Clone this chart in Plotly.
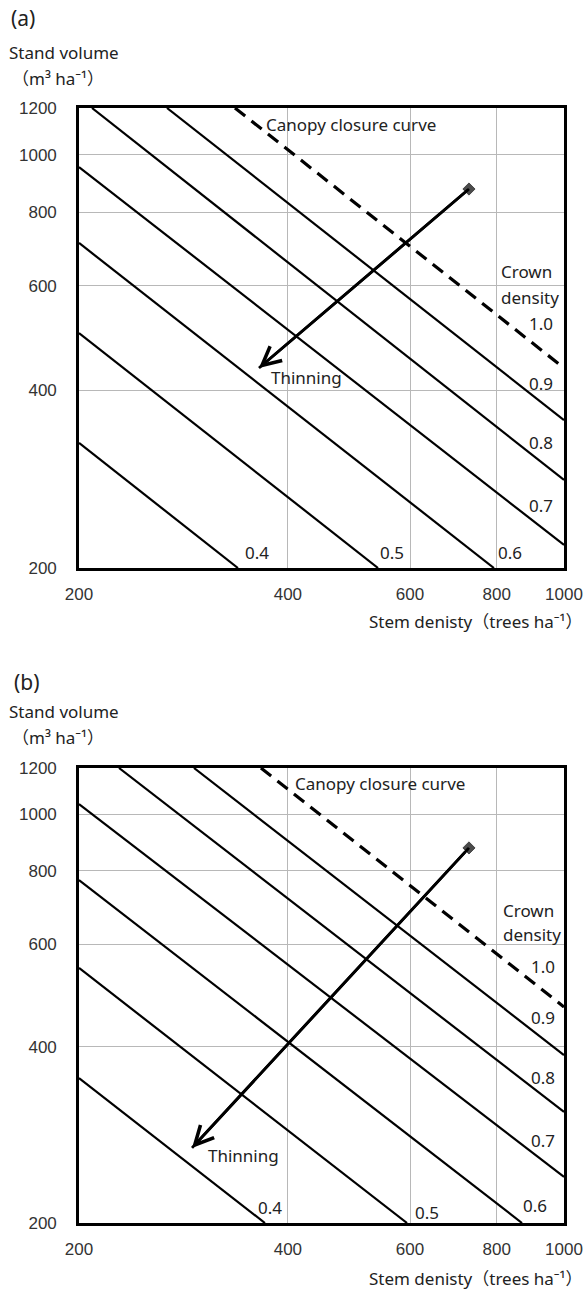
import numpy as np
import plotly.graph_objects as go

W, H = 584, 1290

# ---------------- data ----------------
x_ticks = [200, 400, 600, 800, 1000]
y_ticks = [200, 400, 600, 800, 1000, 1200]
density_labels = ["0.4", "0.5", "0.6", "0.7", "0.8", "0.9", "1.0"]

# Panel (a): crown-density lines, start/end (stem density N, stand volume V)
a_n0 = [200, 200, 200, 200, 208.8, 267.8, 335.6]
a_v0 = [325.5, 499.5, 709.4, 953.6, 1200, 1200, 1200]
a_n1 = [338.9, 539.5, 792.5, 1000, 1000, 1000, 1000]
a_v1 = [200, 200, 200, 218.8, 281.8, 355.9, 435.9]
a_arrow_n = [729.5, 363.4]
a_arrow_v = [875.2, 435.9]

# Panel (b)
b_n0 = [200, 200, 200, 200, 228.4, 292.9, 365.8]
b_v0 = [354, 546, 772, 1041, 1200, 1200, 1200]
b_n1 = [370.7, 594, 869.9, 1000, 1000, 1000, 1000]
b_v1 = [200, 200, 200, 239.8, 309.7, 387.5, 468.2]
b_arrow_n = [729.5, 291.0]
b_arrow_v = [876.0, 268.8]

TEXT_FONT = "Noto Sans, Noto Sans CJK JP, sans-serif"
NUM_FONT = "Liberation Sans, Arial, sans-serif"
TXT_COL = "#222222"

fig = go.Figure()


def px_x(x):
    return x / W


def px_y(y):
    return 1 - y / H


def axis_common():
    return dict(
        type="log", automargin=False,
        showgrid=True, gridcolor="#b8b8b8", gridwidth=1,
        showline=True, mirror=True, linecolor="black", linewidth=2.6,
        zeroline=False, ticks="",
        tickfont=dict(family=NUM_FONT, size=17, color="#333333"),
    )


panels = [
    dict(xa="x", ya="y", top=108, bottom=568,
         n0=a_n0, v0=a_v0, n1=a_n1, v1=a_v1, an=a_arrow_n, av=a_arrow_v),
    dict(xa="x2", ya="y2", top=768, bottom=1223,
         n0=b_n0, v0=b_v0, n1=b_n1, v1=b_v1, an=b_arrow_n, av=b_arrow_v),
]

layout_axes = {}
for i, p in enumerate(panels):
    sfx = "" if i == 0 else "2"
    xa = axis_common()
    xa.update(domain=[px_x(79), px_x(564)],
              range=[np.log10(200), np.log10(1000)],
              tickvals=x_ticks, ticktext=[str(v) for v in x_ticks],
              anchor="y" + sfx, ticklabelstandoff=9)
    ya = axis_common()
    ya.update(domain=[px_y(p["bottom"]), px_y(p["top"])],
              range=[np.log10(200), np.log10(1200)],
              tickvals=y_ticks, ticktext=[str(v) for v in y_ticks],
              anchor="x" + sfx, ticklabelstandoff=16)
    layout_axes["xaxis" + sfx] = xa
    layout_axes["yaxis" + sfx] = ya

    for k in range(len(density_labels)):
        dashed = density_labels[k] == "1.0"
        fig.add_trace(go.Scatter(
            x=[p["n0"][k], p["n1"][k]], y=[p["v0"][k], p["v1"][k]],
            mode="lines",
            line=dict(color="black", width=3.2 if dashed else 2.2,
                      dash="13px,8px" if dashed else "solid"),
            xaxis=p["xa"], yaxis=p["ya"], showlegend=False, hoverinfo="skip"))

    # thinning arrow shaft + start marker
    fig.add_trace(go.Scatter(
        x=p["an"], y=p["av"], mode="lines+markers",
        line=dict(color="black", width=2.8),
        marker=dict(symbol="diamond", size=[11, 0], color="black"),
        xaxis=p["xa"], yaxis=p["ya"], showlegend=False, hoverinfo="skip"))
    fig.add_annotation(
        x=np.log10(p["an"][1]), y=np.log10(p["av"][1]),
        ax=np.log10(p["an"][0]), ay=np.log10(p["av"][0]),
        xref=p["xa"], yref=p["ya"], axref=p["xa"], ayref=p["ya"],
        text="", showarrow=True, arrowhead=5, arrowsize=1.3,
        arrowwidth=2.8, arrowcolor="black", standoff=0)


def add_text(text, x, y, anchor="left", size=17, family=TEXT_FONT, color=TXT_COL):
    fig.add_annotation(text=text, x=px_x(x), y=px_y(y), xref="paper", yref="paper",
                       xanchor=anchor, yanchor="middle", showarrow=False,
                       font=dict(family=family, size=size, color=color))


# panel labels and axis titles
add_text("(a)", 9, 18, size=21)
add_text("(b)", 12, 682, size=21)
add_text("Stand volume", 7, 52)
add_text("（m³ ha⁻¹）", 10, 78)
add_text("Stand volume", 7, 711)
add_text("（m³ ha⁻¹）", 10, 737)

add_text("Stem denisty（trees ha⁻¹）", 585, 622, anchor="right")
add_text("Stem denisty（trees ha⁻¹）", 585, 1278, anchor="right")

# panel (a) in-plot text
add_text("Canopy closure curve", 264, 125)
add_text("Crown", 499, 271)
add_text("density", 499, 297)
add_text("Thinning", 269, 377)
a_lab_pos = [(257, 553), (392, 552), (510, 553), (541, 505), (541, 442), (541, 383), (541, 323)]
for lab, (x, y) in zip(density_labels, a_lab_pos):
    add_text(lab, x, y, anchor="center")

# panel (b) in-plot text
add_text("Canopy closure curve", 293, 783)
add_text("Crown", 501, 910)
add_text("density", 501, 935)
add_text("Thinning", 206, 1155)
b_lab_pos = [(270, 1207), (427, 1212), (535, 1205), (543, 1140), (543, 1077), (543, 1017), (543, 966)]
for lab, (x, y) in zip(density_labels, b_lab_pos):
    add_text(lab, x, y, anchor="center")

fig.update_layout(
    width=W, height=H, autosize=False,
    margin=dict(l=0, r=0, t=0, b=0),
    paper_bgcolor="white", plot_bgcolor="white",
    **layout_axes,
)

fig.write_html("out.html")
